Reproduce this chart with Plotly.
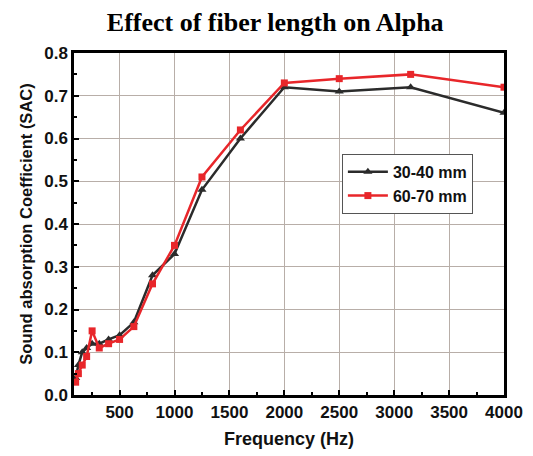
import plotly.graph_objects as go

freq = [100, 125, 160, 200, 250, 315, 400, 500, 630, 800, 1000, 1250, 1600, 2000, 2500, 3150, 4000]
sac_30_40 = [0.04, 0.07, 0.10, 0.11, 0.12, 0.12, 0.13, 0.14, 0.17, 0.28, 0.33, 0.48, 0.60, 0.72, 0.71, 0.72, 0.66]
sac_60_70 = [0.03, 0.05, 0.07, 0.09, 0.15, 0.11, 0.12, 0.13, 0.16, 0.26, 0.35, 0.51, 0.62, 0.73, 0.74, 0.75, 0.72]
x_ticks = [500, 1000, 1500, 2000, 2500, 3000, 3500, 4000]
y_ticks = [0.0, 0.1, 0.2, 0.3, 0.4, 0.5, 0.6, 0.7, 0.8]

fig = go.Figure()
fig.add_trace(go.Scatter(x=freq, y=sac_30_40, name="<b>30-40 mm</b>", mode="lines+markers",
                         line=dict(color="#2b2b2b", width=2.5),
                         marker=dict(symbol="triangle-up", size=8, color="#2b2b2b")))
fig.add_trace(go.Scatter(x=freq, y=sac_60_70, name="<b>60-70 mm</b>", mode="lines+markers",
                         line=dict(color="#e8262a", width=2.5),
                         marker=dict(symbol="square", size=7, color="#e8262a")))

fig.update_layout(
    width=525, height=448,
    paper_bgcolor="white", plot_bgcolor="white",
    margin=dict(l=66, r=29, t=45, b=61),
    title=dict(text="<b>Effect of fiber length on Alpha</b>", x=0.509, xanchor="center", y=0.968, yanchor="middle",
               font=dict(family="Liberation Serif, Times New Roman, serif", size=26, color="black")),
    font=dict(family="Liberation Sans, Arial, sans-serif", color="#222"),
    legend=dict(x=0.623, y=0.705, xanchor="left", yanchor="top",
                bordercolor="#555", borderwidth=1, bgcolor="white",
                font=dict(size=16, color="#111", family="Liberation Sans, Arial, sans-serif"),
                tracegroupgap=0, itemwidth=40),
    showlegend=True,
)
fig.update_xaxes(
    range=[85, 4000], tickvals=x_ticks, ticktext=[f"<b>{v}</b>" for v in x_ticks],
    ticks="inside", ticklen=5, tickwidth=2, tickcolor="black",
    minor=dict(tickvals=[250, 750, 1250, 1750, 2250, 2750, 3250, 3750], ticks="inside", ticklen=3, tickwidth=1.5, tickcolor="black", showgrid=False),
    showline=True, linecolor="black", linewidth=2.5, mirror=True,
    showgrid=True, gridcolor="#b8aea8", gridwidth=1,
    tickfont=dict(size=17, color="#111"),
    title=dict(text="<b>Frequency (Hz)</b>", font=dict(size=18, color="#111"), standoff=12),
    zeroline=False, automargin=False,
)
fig.update_yaxes(
    range=[0, 0.8], tickvals=y_ticks, ticktext=[f"<b>{v:.1f}</b>" for v in y_ticks],
    ticks="inside", ticklen=5, tickwidth=2, tickcolor="black",
    minor=dict(tickvals=[0.05, 0.15, 0.25, 0.35, 0.45, 0.55, 0.65, 0.75], ticks="inside", ticklen=3, tickwidth=1.5, tickcolor="black", showgrid=False),
    showline=True, linecolor="black", linewidth=2.5, mirror=True,
    showgrid=True, gridcolor="#b8aea8", gridwidth=1,
    tickfont=dict(size=17, color="#111"),
    title=dict(text="<b>Sound absorption Coefficient (SAC)</b>", font=dict(size=16.5, color="#111"), standoff=8),
    zeroline=False, automargin=False,
)

fig.write_html("out.html")
